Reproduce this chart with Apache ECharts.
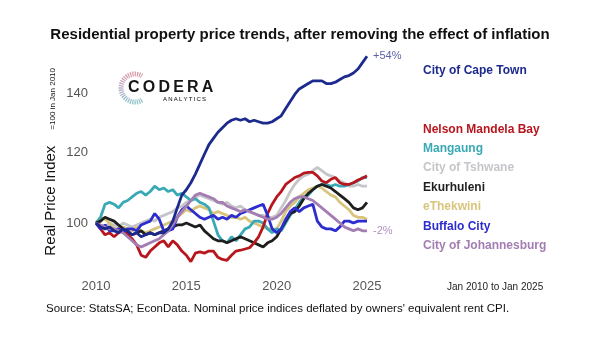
<!DOCTYPE html>
<html>
<head>
<meta charset="utf-8">
<script src="https://cdn.jsdelivr.net/npm/echarts@6/dist/echarts.min.js"></script>
<style>
  html, body { margin: 0; padding: 0; background: #ffffff; }
  #chart { width: 600px; height: 337px; }
</style>
</head>
<body>
<div id="chart"></div>
<script>
// Quarterly observations, Jan 2010 .. Jan 2025
const quarters = [];
for (let y = 2010; y <= 2025; y++) {
  for (let q = 1; q <= 4; q++) {
    if (y === 2025 && q > 1) break;
    quarters.push(y + 'Q' + q);
  }
}

const yTicks = [100, 120, 140];

// Real price index, =100 in Jan 2010
const capeTown = [
  100, 99.0, 98.5, 99.0,
  98.0, 97.5, 98.5, 98.0,
  97.0, 97.5, 96.5, 97.0,
  97.5, 97.0, 97.5, 97.5,
  98.5, 100.5, 104.0, 107.5,
  109.0, 111.0, 113.5, 116.5,
  119.5, 122.5, 124.5, 126.5,
  128.0, 129.5, 130.5, 131.0,
  130.5, 131.0, 130.0, 130.5,
  130.0, 129.5, 129.5, 130.0,
  131.0, 132.0, 134.5, 137.0,
  139.5, 141.5, 142.5, 143.5,
  144.5, 144.5, 144.5, 143.5,
  143.5, 144.0, 145.0, 146.0,
  146.5, 147.5, 149.0, 151.5,
  154.0
];
const nelsonMandelaBay = [
  100, 98.5, 97.0, 97.5,
  96.5, 97.5, 98.0, 97.0,
  96.0, 94.5, 92.0, 91.5,
  93.0, 94.0, 95.0, 95.5,
  94.0, 95.5, 94.5, 93.0,
  92.0, 90.5, 92.5, 92.8,
  92.5, 93.0, 93.0, 91.5,
  91.0, 90.8, 92.0, 93.0,
  93.2, 93.5, 93.8, 95.0,
  96.5, 99.0, 102.5, 105.0,
  107.0, 108.5, 110.5, 111.5,
  112.5, 113.0, 113.8, 114.0,
  114.0, 113.0, 111.5, 111.0,
  112.0, 112.5, 111.0, 110.5,
  110.5, 111.0, 111.8, 112.3,
  113.0
];
const mangaung = [
  100, 101.5, 105.0, 105.5,
  105.0, 104.0, 105.5, 106.0,
  107.0, 108.0, 108.5, 107.5,
  108.5, 110.0, 109.0, 109.5,
  108.5, 109.0, 107.5, 108.0,
  107.0, 106.0, 106.5, 105.5,
  105.0, 104.0, 100.5, 97.0,
  95.5, 95.0, 96.5, 95.5,
  97.0, 98.5, 99.0, 100.5,
  100.5, 100.0, 98.5, 97.5,
  98.5, 98.0, 100.0, 102.0,
  103.5, 105.5, 107.0, 107.5,
  109.0, 110.0, 110.5, 110.5,
  110.0, 110.5, 110.0, 110.0,
  110.5, 111.0, 111.5, 112.5,
  112.5
];
const tshwane = [
  100, 99.5, 99.0, 100.0,
  99.5, 99.0, 100.0, 99.5,
  99.0, 99.5, 100.0, 100.5,
  101.0, 100.5, 101.5, 102.0,
  102.5, 103.0, 104.0, 104.5,
  105.5, 106.0, 107.0, 107.5,
  107.0, 106.5, 106.0, 105.5,
  105.0, 105.5, 104.5, 104.0,
  104.5, 103.5, 103.0, 102.5,
  102.0, 102.0, 101.5, 101.5,
  102.0, 104.0, 106.0, 108.5,
  110.5, 112.0, 113.0, 113.5,
  114.5, 115.5, 114.5, 113.5,
  113.0, 112.5, 111.5, 111.0,
  110.0, 110.0, 110.5, 110.0,
  110.0
];
const ekurhuleni = [
  100, 100.5, 101.5, 101.0,
  100.5, 99.5, 98.5, 97.5,
  97.0, 97.5, 98.0, 97.0,
  97.5, 97.0, 97.5, 98.0,
  98.5, 99.0, 99.5, 99.5,
  100.0, 99.5, 99.0, 99.5,
  98.0, 97.0, 96.0, 95.5,
  95.5, 95.0, 95.5, 96.0,
  96.5, 96.0, 95.5, 95.0,
  94.5, 94.0, 95.0, 95.5,
  96.5, 98.5, 100.5, 102.5,
  103.0, 104.5, 106.5, 108.0,
  109.0, 110.0, 110.5, 110.0,
  109.5, 108.5, 107.5, 106.5,
  105.5, 104.0, 103.5, 104.0,
  105.5
];
const eThekwini = [
  100, 101.5, 101.0, 100.0,
  98.5, 98.5, 99.0, 98.5,
  98.0, 99.0, 98.0, 97.5,
  98.0, 98.5, 99.0, 99.5,
  100.0, 100.5, 101.5, 102.5,
  103.5, 103.0, 104.0, 104.5,
  104.0, 103.5, 102.5, 103.0,
  102.5, 102.0, 101.5, 101.5,
  101.0, 101.5, 100.5, 100.0,
  99.5, 99.0, 98.5, 98.5,
  98.5, 100.5, 103.0, 104.5,
  105.5, 107.0, 108.0, 109.0,
  109.5, 110.0, 109.5, 108.5,
  107.5, 107.0, 105.5, 104.5,
  103.5, 102.0, 101.5, 101.5,
  101.0
];
const buffaloCity = [
  100, 98.5, 99.5, 98.0,
  98.0, 98.5, 97.5, 98.5,
  98.5, 98.0, 99.5, 100.0,
  100.5, 102.5, 101.0, 98.0,
  98.0, 98.5, 101.5, 103.5,
  104.5, 103.5, 102.5, 101.5,
  101.0, 101.5, 102.0, 101.0,
  101.5, 101.0, 102.0, 101.5,
  102.5, 103.0, 103.5, 104.0,
  104.5, 105.0, 102.0, 98.5,
  97.5, 98.5, 101.0, 103.0,
  104.0, 103.0, 104.0, 104.5,
  105.0, 100.5, 99.0, 98.5,
  98.5, 98.0, 99.0, 100.5,
  100.5, 100.0, 100.5, 100.5,
  100.5
];
const johannesburg = [
  100, 99.5, 99.0, 98.5,
  98.5, 98.0, 97.5, 96.5,
  95.5, 94.5, 94.0, 94.5,
  95.0, 95.5, 96.0, 97.0,
  98.0, 99.5, 101.5, 103.0,
  104.5, 106.0, 107.5, 108.0,
  107.5, 107.0, 106.5, 105.5,
  105.5, 104.5, 104.0, 103.5,
  103.0, 103.5, 103.0, 102.5,
  102.0, 101.5, 101.0, 101.0,
  101.5, 102.5, 104.0, 105.5,
  106.5, 107.0, 107.0, 106.5,
  106.0, 105.0, 104.0, 103.0,
  102.0, 101.0, 100.0, 99.0,
  98.5, 98.0, 98.5, 98.0,
  98.0
];

// Metro names, in legend order, with their colours
const legendNames = [
  'City of Cape Town', 'Nelson Mandela Bay', 'Mangaung', 'City of Tshwane',
  'Ekurhuleni', 'eThekwini', 'Buffalo City', 'City of Johannesburg'
];
const seriesValues = {
  'City of Cape Town': capeTown,
  'Nelson Mandela Bay': nelsonMandelaBay,
  'Mangaung': mangaung,
  'City of Tshwane': tshwane,
  'Ekurhuleni': ekurhuleni,
  'eThekwini': eThekwini,
  'Buffalo City': buffaloCity,
  'City of Johannesburg': johannesburg
};
const colours = {
  'City of Cape Town': '#1c2a8e',
  'Nelson Mandela Bay': '#b8161e',
  'Mangaung': '#39a9b6',
  'City of Tshwane': '#c6c6ca',
  'Ekurhuleni': '#1e1e1e',
  'eThekwini': '#d9c47c',
  'Buffalo City': '#2c2ccf',
  'City of Johannesburg': '#a37db3'
};
// drawing order: later lines sit on top
const drawOrder = [
  'City of Tshwane', 'eThekwini', 'Mangaung', 'Ekurhuleni',
  'Nelson Mandela Bay', 'Buffalo City', 'City of Johannesburg', 'City of Cape Town'
];
const endLabelColours = {
  'City of Cape Town': '#5b64a6',
  'City of Johannesburg': '#b290c0'
};

const FONT = "'Liberation Sans', Arial, Helvetica, sans-serif";

function changeLabel(values) {
  const pct = Math.round((values[values.length - 1] / values[0] - 1) * 100);
  return (pct > 0 ? '+' : '') + pct + '%';
}

const series = drawOrder.map(name => {
  const values = seriesValues[name];
  const s = {
    name: name,
    type: 'line',
    data: values,
    showSymbol: false,
    silent: true,
    lineStyle: { color: colours[name], width: 2.8 },
    itemStyle: { color: colours[name] },
    emphasis: { disabled: true }
  };
  if (endLabelColours[name]) {
    s.endLabel = {
      show: true,
      formatter: () => changeLabel(values),
      color: endLabelColours[name],
      fontSize: 11,
      fontFamily: FONT,
      distance: 6
    };
  }
  return s;
});

const legendText = { fontSize: 12, fontWeight: 'bold', fontFamily: FONT };
function legendBlock(names, top) {
  return {
    orient: 'vertical',
    left: 418,
    top: top,
    icon: 'none',
    itemWidth: 0,
    itemHeight: 14,
    itemGap: 6.4,
    selectedMode: false,
    padding: 0,
    textStyle: legendText,
    data: names.map(n => ({ name: n, textStyle: { color: colours[n] } }))
  };
}

const chart = echarts.init(document.getElementById('chart'), null, { renderer: 'canvas' });
chart.setOption({
  animation: false,
  backgroundColor: '#ffffff',
  title: {
    text: 'Residential property price trends, after removing the effect of inflation',
    left: 'center',
    top: 22,
    textStyle: { fontSize: 15, fontWeight: 'bold', color: '#111111', fontFamily: FONT }
  },
  legend: [
    legendBlock(legendNames.slice(0, 1), 64),
    legendBlock(legendNames.slice(1), 122.3)
  ],
  grid: { left: 96, right: 233, top: 51.3, bottom: 64.6, containLabel: false },
  xAxis: {
    type: 'category',
    data: quarters,
    boundaryGap: false,
    axisLine: { show: false },
    axisTick: { show: false },
    splitLine: { show: false },
    axisLabel: {
      interval: 19,
      formatter: v => v.slice(0, 4),
      color: '#555555',
      fontSize: 13,
      fontFamily: FONT,
      margin: 8
    }
  },
  yAxis: {
    type: 'log',
    min: 88,
    max: 156,
    axisLine: { show: false },
    axisTick: { show: false },
    splitLine: { show: false },
    axisLabel: {
      customValues: yTicks,
      color: '#555555',
      fontSize: 13,
      fontFamily: FONT,
      margin: 8
    },
    name: '{a|Real Price Index}{b|=100 in Jan 2010}',
    nameLocation: 'middle',
    nameRotate: 90,
    nameGap: 38,
    nameTextStyle: {
      rich: {
        a: { fontSize: 15, color: '#111111', fontFamily: FONT, verticalAlign: 'bottom' },
        b: { fontSize: 8, color: '#111111', fontFamily: FONT, verticalAlign: 'bottom', padding: [0, 0, 1, 16] }
      }
    }
  },
  graphic: [
    {
      type: 'arc',
      shape: { cx: 135, cy: 88, r: 14, startAngle: Math.PI / 3, endAngle: Math.PI * 5 / 3, clockwise: true },
      style: {
        fill: null,
        lineWidth: 5,
        lineDash: [1.2, 1.0],
        stroke: new echarts.graphic.LinearGradient(0, 0, 0, 1, [
          { offset: 0, color: '#dc98a2' },
          { offset: 0.5, color: '#b4a2c2' },
          { offset: 1, color: '#84c7c9' }
        ])
      },
      silent: true
    },
    {
      type: 'text',
      left: 128,
      top: 80,
      style: {
        text: 'C\u2009O\u2009D\u2009E\u2009R\u2009A',
        fill: '#161616',
        font: 'bold 16px ' + FONT
      },
      silent: true
    },
    {
      type: 'text',
      left: 163,
      top: 96,
      style: {
        text: 'A\u2009N\u2009A\u2009L\u2009Y\u2009T\u2009I\u2009C\u2009S',
        fill: new echarts.graphic.LinearGradient(0, 0, 1, 0, [
          { offset: 0, color: '#d99aa6' },
          { offset: 1, color: '#8cc6cc' }
        ]),
        font: '6px ' + FONT
      },
      silent: true
    },
    {
      type: 'text',
      left: 447,
      top: 282,
      style: { text: 'Jan 2010 to Jan 2025', fill: '#222222', font: '10px ' + FONT },
      silent: true
    },
    {
      type: 'text',
      left: 46,
      top: 303,
      style: {
        text: "Source: StatsSA; EconData. Nominal price indices deflated by owners' equivalent rent CPI.",
        fill: '#111111',
        font: '11.5px ' + FONT
      },
      silent: true
    }
  ],
  series: series
});
</script>
</body>
</html>
